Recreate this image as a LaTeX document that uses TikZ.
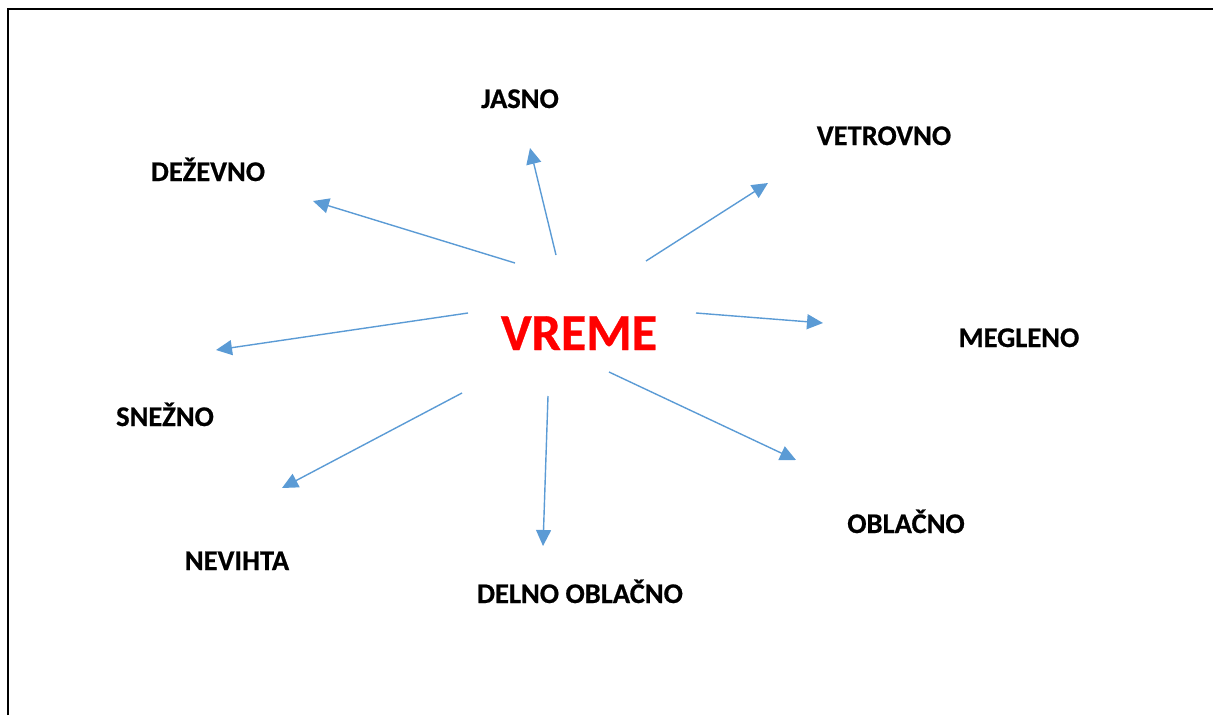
\documentclass[tikz,border=0pt]{standalone}
\usepackage{fontspec}
\setmainfont{Carlito}[BoldFeatures={FakeBold=0.6}]
\usetikzlibrary{arrows.meta}
\definecolor{arrowblue}{HTML}{5B9BD5}
\tikzset{
  lbl/.style={font=\fontsize{28.5}{30}\selectfont\bfseries, anchor=base, inner sep=0pt, text=black},
  title/.style={font=\fontsize{52}{56}\selectfont\bfseries, anchor=base, inner sep=0pt, text=red},
  ray/.style={draw=arrowblue, line width=1.4pt, -{Triangle[length=16pt,width=15pt]}},
  frame/.style={draw=black, line width=2.6pt}
}
\begin{document}
\begin{tikzpicture}[x=1pt,y=-1pt]
\useasboundingbox (0,0) rectangle (1213,715);
\draw[frame] (8,715) -- (8,9) -- (1213,9);
\node[title] (vreme) at (579,350) {VREME};
\node[lbl] (jasno) at (520,108) {JASNO};
\node[lbl] (vetrovno) at (884,145) {VETROVNO};
\node[lbl] (dezevno) at (208,181) {DEŽEVNO};
\node[lbl] (megleno) at (1019,347) {MEGLENO};
\node[lbl] (snezno) at (165,426) {SNEŽNO};
\node[lbl] (nevihta) at (237,570) {NEVIHTA};
\node[lbl] (delno) at (580,603) {DELNO OBLAČNO};
\node[lbl] (oblacno) at (906,533) {OBLAČNO};
% start points
\coordinate (s1) at (556,255);
\coordinate (s2) at (646,261);
\coordinate (s3) at (515,263);
\coordinate (s4) at (696,313);
\coordinate (s5) at (468,313);
\coordinate (s6) at (462,393);
\coordinate (s7) at (548,396);
\coordinate (s8) at (609,372);
% tips
\coordinate (t1) at (530,148);
\coordinate (t2) at (768,183);
\coordinate (t3) at (313,201);
\coordinate (t4) at (823,323);
\coordinate (t5) at (216,350);
\coordinate (t6) at (282,488);
\coordinate (t7) at (543,546);
\coordinate (t8) at (796,460);
\draw[ray] (s1) -- (t1);
\draw[ray] (s2) -- (t2);
\draw[ray] (s3) -- (t3);
\draw[ray] (s4) -- (t4);
\draw[ray] (s5) -- (t5);
\draw[ray] (s6) -- (t6);
\draw[ray] (s7) -- (t7);
\draw[ray] (s8) -- (t8);
\end{tikzpicture}
\end{document}
